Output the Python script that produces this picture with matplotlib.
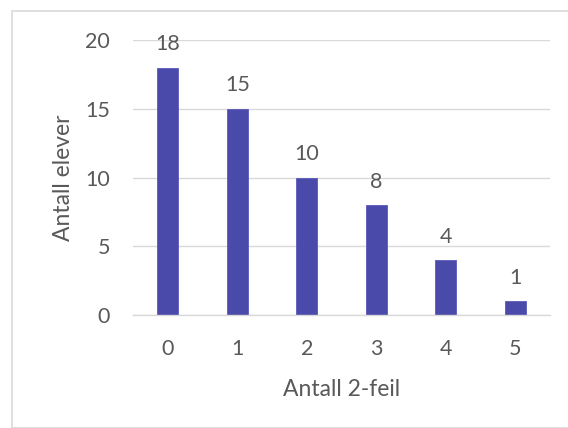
import matplotlib
matplotlib.use("Agg")
import matplotlib.pyplot as plt
from matplotlib.patches import Rectangle

categories = ["0", "1", "2", "3", "4", "5"]
counts = [18, 15, 10, 8, 4, 1]
y_ticks = [0, 5, 10, 15, 20]
x_label = "Antall 2-feil"
y_label = "Antall elever"

W, H = 568, 428
TEXT = "#595959"
BAR = "#4A4AAB"
GRID = "#D9D9D9"
FS = 15.5

plt.rcParams["font.family"] = ["Lato", "DejaVu Sans"]

fig = plt.figure(figsize=(W / 100, H / 100), dpi=100)

# chart frame (runs off the right and bottom edges)
fig.patches.append(Rectangle((12 / W, 0), 1, 1 - 10.5 / H, transform=fig.transFigure,
                             fill=False, edgecolor="#D9D9D9", linewidth=1.2))

left, right, top, bottom = 133, 550, 40, 315
ax = fig.add_axes([left / W, 1 - bottom / H, (right - left) / W, (bottom - top) / H])

x = list(range(len(categories)))
ax.bar(x, counts, width=0.3, color=BAR, edgecolor="#5A5AB8", linewidth=0.6, zorder=3)

for xi, v in zip(x, counts):
    ax.annotate(str(v), (xi, v), xytext=(0, 12.5), textcoords="offset points",
                ha="center", va="baseline", fontsize=FS, color=TEXT)

ax.set_xlim(-0.5, len(categories) - 0.5)
ax.set_ylim(0, 20)
ax.set_yticks(y_ticks)
ax.set_xticks(x)
ax.set_xticklabels(categories)
ax.tick_params(axis="both", length=0, colors=TEXT, labelsize=FS)
ax.tick_params(axis="y", pad=16.5)
ax.tick_params(axis="x", pad=17)
ax.grid(axis="y", color=GRID, linewidth=1, zorder=0)
for s in ["top", "right", "left"]:
    ax.spines[s].set_visible(False)
ax.spines["bottom"].set_color(GRID)
ax.spines["bottom"].set_linewidth(1)
ax.spines["bottom"].set_zorder(4)

ax.set_xlabel(x_label, fontsize=16.5, color=TEXT, va="center")
ax.set_ylabel(y_label, fontsize=16.5, color=TEXT, va="center")
ax.xaxis.set_label_coords(0.5, (bottom - 389) / (bottom - top))
ax.yaxis.set_label_coords((63 - left) / (right - left), 0.5)

fig.savefig("out.png", dpi=100, facecolor="white")
